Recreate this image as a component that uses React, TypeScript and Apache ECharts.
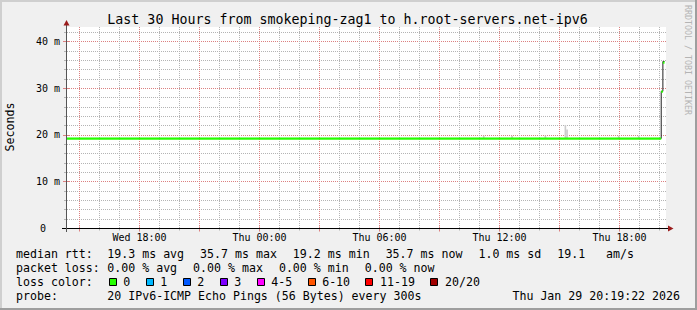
import React, { useEffect, useRef } from 'react';
import * as echarts from 'echarts';

// ---------- texts ----------
const chartTitle = 'Last 30 Hours from smokeping-zag1 to h.root-servers.net-ipv6';
const yAxisName = 'Seconds';
const watermark = 'RRDTOOL / TOBI OETIKER';

// ---------- axes ----------
const rangeStart = 'Wed 14:19:22';
const rangeEnd = 'Thu 20:19:22';
const xTickTimes = ['Wed 18:00', 'Thu 00:00', 'Thu 06:00', 'Thu 12:00', 'Thu 18:00'];
const yTickValues = [0, 10, 20, 30, 40];
const yTickLabels = ['0', '10 m', '20 m', '30 m', '40 m'];
const yMax = 43.1;

// ---------- median rtt (ms), step segments of 300 s ----------
const medianStarts = ['Wed 14:20', 'Thu 20:05', 'Thu 20:10'];
const medianEnds = ['Thu 20:05', 'Thu 20:10', 'Thu 20:15'];
const medianValues = [19.2, 29.3, 35.7];

// ---------- smoke (ping spread above median, ms) ----------
const smokeStarts = ['Thu 11:10', 'Thu 12:35', 'Thu 14:15', 'Thu 15:15', 'Thu 15:20', 'Thu 17:55', 'Thu 18:55'];
const smokeBottoms = [19.2, 19.2, 19.2, 19.2, 19.2, 19.2, 19.2];
const smokeTops = [19.8, 19.8, 19.8, 22.1, 21.1, 19.8, 19.8];

// ---------- legend ----------
const rttLabel = 'median rtt:';
const rttValues = [19.3, 35.7, 19.2, 35.7, 1.0];
const rttKinds = ['avg', 'max', 'min', 'now', 'sd'];
const amPerSecond = 19.1;
const lossLabel = 'packet loss:';
const lossValues = [0, 0, 0, 0];
const lossKinds = ['avg', 'max', 'min', 'now'];
const lossColorLabel = 'loss color:';
const lossLevels = ['0', '1', '2', '3', '4-5', '6-10', '11-19', '20/20'];
const lossColors = ['#26ff00', '#00b8ff', '#0059ff', '#7e00ff', '#ff00ff', '#ff5500', '#ff0000', '#a10000'];
const probeLabel = 'probe:';
const probeText = '20 IPv6-ICMP Echo Pings (56 Bytes) every 300s';
const stampText = 'Thu Jan 29 20:19:22 2026';

// ---------- helpers ----------
const toHours = (s: string) => {
  const [d, hm] = s.split(' ');
  const p = hm.split(':').map(Number);
  return (d === 'Thu' ? 24 : 0) + p[0] + p[1] / 60 + (p[2] || 0) / 3600;
};
const STEP_H = 5 / 60;

const MONO = '"DejaVu Sans Mono", monospace';
const GRID_C = '#b4b4b4';
const MGRID_C = '#dc8080';
const ARROW_C = '#9a1c1c';

export default function App() {
  const ref = useRef<HTMLDivElement>(null);

  useEffect(() => {
    const chart = echarts.init(ref.current!, null, { renderer: 'svg' });
    const tStart = toHours(rangeStart);
    const tEnd = toHours(rangeEnd);

    const hourMarks: number[] = [];
    for (let h = Math.ceil(tStart); h <= tEnd; h++) hourMarks.push(h);
    const hLines: number[][] = [];
    for (let v = 2; v < yMax; v += 2) hLines.push([v, v % 10 === 0 ? 1 : 0]);
    hLines.push([0, 1]);

    const xTickHours = xTickTimes.map(toHours);

    const medianLine: number[][] = medianStarts.map((s, i) => [toHours(s), medianValues[i]]);
    medianLine.push([toHours(medianEnds[medianEnds.length - 1]), medianValues[medianValues.length - 1]]);

    // legend layout
    const CW = 6.98;
    const X0 = 16;
    const X1 = 107.3;
    const GAP = 16;
    const ROW0 = 254.2;
    const ROWH = 13.9;
    const fontL = `11.6px ${MONO}`;
    const g: any[] = [];
    const txt = (text: string, x: number, y: number, extra: any = {}) =>
      g.push({
        type: 'text',
        x,
        y,
        z: 50,
        style: { text, fill: '#000', font: fontL, textAlign: 'left', textVerticalAlign: 'middle', ...extra },
      });

    txt(rttLabel, X0, ROW0);
    let x = X1;
    const rttItems = rttValues.map((v, i) => `${v.toFixed(1)} ms ${rttKinds[i]}`);
    rttItems.push(`${amPerSecond.toFixed(1)}   am/s`);
    rttItems.forEach((t) => {
      txt(t, x, ROW0);
      x += t.length * CW + GAP;
    });
    txt(lossLabel, X0, ROW0 + ROWH);
    x = X1;
    lossValues.forEach((v, i) => {
      const t = `${v.toFixed(2)} % ${lossKinds[i]}`;
      txt(t, x, ROW0 + ROWH);
      x += t.length * CW + GAP;
    });
    const r2 = ROW0 + 2 * ROWH;
    txt(lossColorLabel, X0, r2);
    x = X1;
    lossLevels.forEach((lv, i) => {
      const bx = Math.round(x + 1.4);
      g.push({
        type: 'rect',
        z: 50,
        shape: { x: bx + 0.5, y: Math.round(r2 - 4) + 0.5, width: 7, height: 7 },
        style: { fill: lossColors[i], stroke: '#000', lineWidth: 1 },
      });
      txt(lv, x + 16, r2);
      x += 16 + lv.length * CW + 14;
    });
    const r3 = ROW0 + 3 * ROWH;
    txt(probeLabel, X0, r3);
    txt(probeText, X1, r3);
    txt(stampText, 680, r3, { textAlign: 'right' });

    g.push({
      type: 'text', x: 347.5, y: 19, z: 50,
      style: { text: chartTitle, fill: '#000', font: `13.3px ${MONO}`, textAlign: 'center', textVerticalAlign: 'middle' },
    });
    g.push({
      type: 'text', x: 10, y: 127, rotation: Math.PI / 2, z: 50,
      style: { text: yAxisName, fill: '#000', font: fontL, textAlign: 'center', textVerticalAlign: 'middle' },
    });
    g.push({
      type: 'text', x: 687.5, y: 60, rotation: -Math.PI / 2, z: 50,
      style: { text: watermark, fill: '#b4b4b4', font: `8.3px ${MONO}`, textAlign: 'center', textVerticalAlign: 'middle' },
    });

    g.push({ type: 'rect', z: 40, shape: { x: 0, y: 0, width: 697, height: 2 }, style: { fill: '#cfcfcf' } });
    g.push({ type: 'rect', z: 40, shape: { x: 0, y: 0, width: 2, height: 310 }, style: { fill: '#cfcfcf' } });
    g.push({ type: 'rect', z: 41, shape: { x: 695, y: 0, width: 2, height: 310 }, style: { fill: '#9e9e9e' } });
    g.push({ type: 'rect', z: 41, shape: { x: 0, y: 308, width: 697, height: 2 }, style: { fill: '#9e9e9e' } });

    g.push({ type: 'line', z: 60, shape: { x1: 62, y1: 228.5, x2: 670, y2: 228.5 }, style: { stroke: '#000', lineWidth: 1 } });
    g.push({ type: 'line', z: 60, shape: { x1: 66.5, y1: 232, x2: 66.5, y2: 23 }, style: { stroke: '#555', lineWidth: 1 } });
    g.push({
      type: 'polygon', z: 61,
      shape: { points: [[668, 225.5], [668, 231.5], [673.5, 228.5]] },
      style: { fill: ARROW_C },
    });
    g.push({
      type: 'polygon', z: 61,
      shape: { points: [[63.5, 25.5], [69.5, 25.5], [66.5, 20]] },
      style: { fill: ARROW_C },
    });

    const option: any = {
      animation: false,
      backgroundColor: '#f0f0f0',
      grid: {
        left: 66, top: 27, width: 600, height: 201,
        show: true, backgroundColor: '#ffffff', borderWidth: 0,
      },
      xAxis: {
        type: 'value', min: tStart, max: tEnd,
        axisLine: { show: false }, splitLine: { show: false },
        axisTick: { show: false },
        axisLabel: {
          customValues: xTickHours,
          formatter: (v: number) => {
            const i = xTickHours.findIndex((h) => Math.abs(h - v) < 1e-6);
            return i < 0 ? '' : xTickTimes[i];
          },
          margin: 4, fontSize: 10, fontFamily: MONO, color: '#000',
        },
      },
      yAxis: {
        type: 'value', min: 0, max: yMax,
        axisLine: { show: false }, axisTick: { show: false }, splitLine: { show: false },
        axisLabel: {
          customValues: yTickValues,
          formatter: (v: number) => {
            const i = yTickValues.indexOf(v);
            if (i < 0) return '';
            return v === 0 ? `{z|${yTickLabels[i]}}` : yTickLabels[i];
          },
          rich: { z: { padding: [0, 14, 0, 0], fontSize: 10, fontFamily: MONO, color: '#000' } },
          margin: 6, fontSize: 10, fontFamily: MONO, color: '#000',
        },
      },
      series: [
        {
          type: 'custom', silent: true, z: 1, clip: false,
          data: hLines,
          renderItem: (_p: any, api: any) => {
            const v = api.value(0);
            const major = api.value(1) === 1;
            const l = api.coord([tStart, v]);
            const r = api.coord([tEnd, v]);
            const yy = Math.round(l[1]) + 0.5;
            const xl = Math.floor(l[0]) + 1;
            const c = major ? MGRID_C : GRID_C;
            return {
              type: 'group',
              children: [
                { type: 'line', shape: { x1: xl, y1: yy, x2: Math.round(r[0]), y2: yy }, style: { stroke: c, lineWidth: 1, lineDash: [1, 1] } },
                { type: 'line', shape: { x1: xl - (major ? 4 : 3), y1: yy, x2: xl + (major ? 2 : 1), y2: yy }, style: { stroke: c, lineWidth: 1 } },
              ],
            };
          },
        },
        {
          type: 'custom', silent: true, z: 1, clip: false,
          data: hourMarks.map((h) => [h, h % 3 === 0 ? 20 : 10]),
          renderItem: (_p: any, api: any) => {
            const h = api.value(0);
            const major = api.value(1) > 15;
            const top = api.coord([h, yMax]);
            const bot = api.coord([h, 0]);
            const xx = Math.floor(bot[0]) + 0.5;
            const yb = Math.round(bot[1]) + 0.5;
            const c = major ? MGRID_C : GRID_C;
            return {
              type: 'group',
              children: [
                { type: 'line', shape: { x1: xx, y1: Math.round(top[1]), x2: xx, y2: yb - 0.5 }, style: { stroke: c, lineWidth: 1, lineDash: [1, 1] } },
                { type: 'line', shape: { x1: xx, y1: yb - (major ? 2 : 1), x2: xx, y2: yb + (major ? 3 : 2) }, style: { stroke: c, lineWidth: 1 } },
              ],
            };
          },
        },
        {
          type: 'custom', silent: true, z: 2,
          data: smokeStarts.map((s, i) => [toHours(s), smokeBottoms[i], smokeTops[i]]),
          renderItem: (_p: any, api: any) => {
            const t = api.value(0);
            const a = api.coord([t, api.value(2)]);
            const b = api.coord([t + STEP_H, api.value(1)]);
            return {
              type: 'rect',
              shape: { x: a[0], y: a[1], width: b[0] - a[0], height: b[1] - a[1] },
              style: { fill: '#cccccc' },
            };
          },
        },
        {
          type: 'line', z: 3, step: 'end', symbol: 'none', silent: true,
          data: medianLine,
          lineStyle: { color: '#202020', width: 1 },
        },
        {
          type: 'custom', silent: true, z: 4,
          data: medianStarts.map((s, i) => [toHours(s), medianValues[i], toHours(medianEnds[i])]),
          renderItem: (_p: any, api: any) => {
            const a = api.coord([api.value(0), api.value(1)]);
            const b = api.coord([api.value(2), api.value(1)]);
            const yy = Math.round(a[1]);
            return {
              type: 'rect',
              shape: { x: a[0], y: yy - 0.5, width: b[0] - a[0], height: 2.2 },
              style: { fill: lossColors[0] },
            };
          },
        },
      ],
      graphic: { elements: g },
    };
    chart.setOption(option);
    return () => chart.dispose();
  }, []);

  return <div ref={ref} style={{ position: 'fixed', left: 0, top: 0, width: 697, height: 310 }} />;
}
